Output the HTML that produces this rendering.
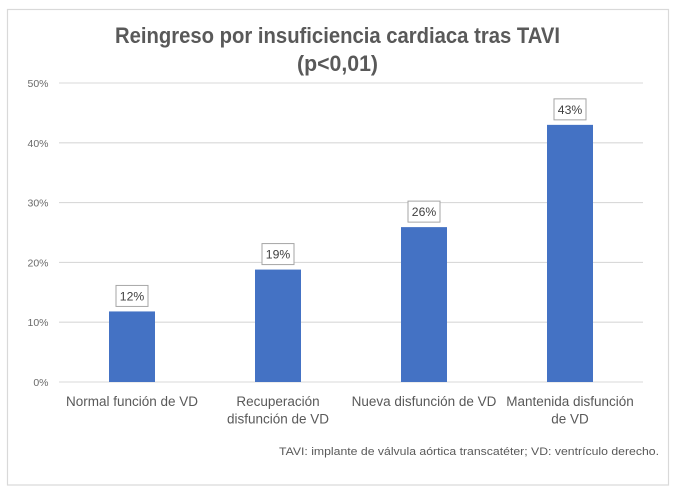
<!DOCTYPE html>
<html lang="es">
<head>
<meta charset="utf-8">
<title>Reingreso por insuficiencia cardiaca tras TAVI</title>
<style>
html,body{margin:0;padding:0;background:#fff;}
svg{display:block;font-family:"Liberation Sans",sans-serif;}
</style>
</head>
<body>
<svg id="chart" xmlns="http://www.w3.org/2000/svg" width="674" height="491" viewBox="0 0 674 491">
  <rect x="7.5" y="9.5" width="661" height="475.5" fill="#fff" stroke="#d9d9d9" stroke-width="1.2"/>
  <text x="337.5" y="43" text-anchor="middle" font-size="22.5" font-weight="700" fill="#595959" textLength="445" lengthAdjust="spacingAndGlyphs">Reingreso por insuficiencia cardiaca tras TAVI</text>
  <text x="337.5" y="71" text-anchor="middle" font-size="22.5" font-weight="700" fill="#595959" textLength="81" lengthAdjust="spacingAndGlyphs">(p&lt;0,01)</text>
  <g id="grid"></g>
  <g id="bars"></g>
  <g id="yticks"></g>
  <g id="xlabels"></g>
  <text x="279" y="455" font-size="11" fill="#595959" textLength="380" lengthAdjust="spacingAndGlyphs">TAVI: implante de válvula aórtica transcatéter; VD: ventrículo derecho.</text>
</svg>
<script>
const categories = [
  ["Normal función de VD"],
  ["Recuperación", "disfunción de VD"],
  ["Nueva disfunción de VD"],
  ["Mantenida disfunción", "de VD"]
];
const values = [11.8, 18.8, 25.9, 43];
const yTicks = [0, 10, 20, 30, 40, 50];

const NS = "http://www.w3.org/2000/svg";
const plot = { left: 59, right: 643, top: 83, bottom: 382, yMax: 50, barWidth: 46 };

function yScale(v) {
  return plot.bottom - (v / plot.yMax) * (plot.bottom - plot.top);
}
function xCenter(i) {
  return plot.left + (i + 0.5) * (plot.right - plot.left) / categories.length;
}
function make(tag, attrs, parent, text) {
  const el = document.createElementNS(NS, tag);
  for (const k in attrs) el.setAttribute(k, attrs[k]);
  if (text !== undefined) el.textContent = text;
  parent.appendChild(el);
  return el;
}

const gridG = document.getElementById("grid");
const tickG = document.getElementById("yticks");
yTicks.forEach(function (t) {
  const y = yScale(t);
  const line = make("line", { x1: plot.left, x2: plot.right, y1: y, y2: y, stroke: "#d9d9d9", "stroke-width": 1.1 }, gridG);
  
  
  const label = make("text", { x: 48.5, y: y + 4, "text-anchor": "end", "font-size": 10.5, fill: "#6a6a6a" }, tickG, t + "%");
  
  
});

const barG = document.getElementById("bars");
const labelG = document.getElementById("xlabels");
values.forEach(function (v, i) {
  const cx = xCenter(i);
  const top = yScale(v);
  const bar = make("rect", { x: cx - plot.barWidth / 2, y: top, width: plot.barWidth, height: plot.bottom - top, fill: "#4472c4" }, barG);
  
  

  const box = make("rect", { x: cx - 16, y: top - 26, width: 32, height: 21, fill: "#fff", stroke: "#a6a6a6", "stroke-width": 1 }, barG);
  
  

  const val = make("text", { x: cx, y: top - 11, "text-anchor": "middle", "font-size": 12.2, fill: "#404040" }, barG, Math.round(v) + "%");
  
  

  categories[i].forEach(function (line, j) {
    const cat = make("text", { x: cx, y: 406 + j * 17.5, "text-anchor": "middle", "font-size": 13.5, fill: "#595959" }, labelG, line);
    
    
  });
});
</script>
</body>
</html>
